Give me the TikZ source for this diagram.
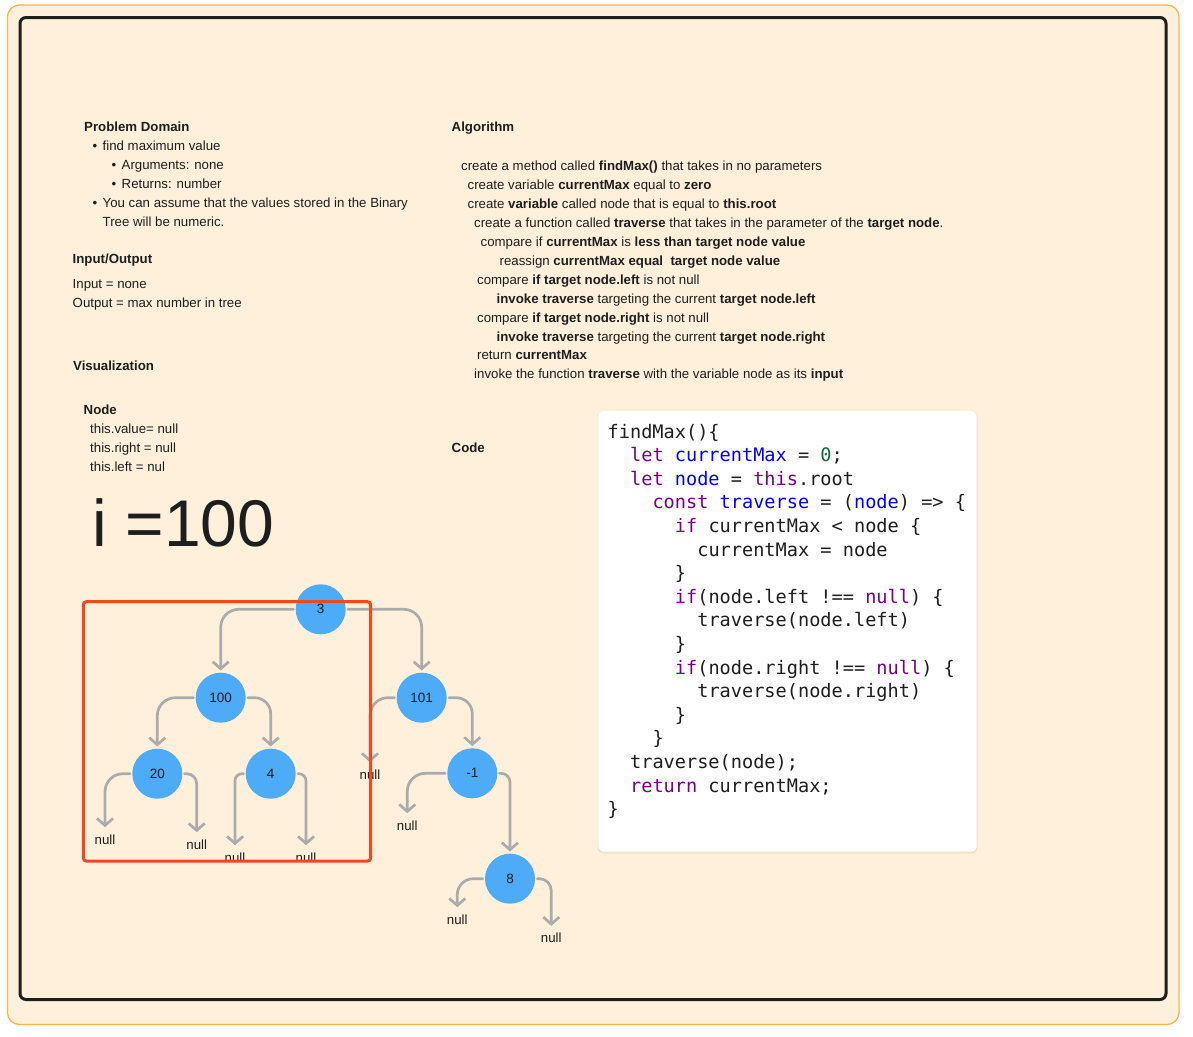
\documentclass[tikz,border=0pt]{standalone}
\usepackage{fontspec}
\setmainfont{Liberation Sans}
\newfontfamily\codefont{DejaVu Sans Mono}
\usetikzlibrary{arrows.meta,calc}
\definecolor{cream}{HTML}{FFF0DB}
\definecolor{frameorange}{HTML}{FFB54F}
\definecolor{ink}{HTML}{1E1E1E}
\definecolor{nodeblue}{HTML}{4DABF7}
\definecolor{conngray}{HTML}{ABABAB}
\definecolor{boxred}{HTML}{F24822}
\definecolor{kwc}{HTML}{770088}
\definecolor{defc}{HTML}{0000FF}
\definecolor{numc}{HTML}{116644}
\newcommand\ckw[1]{\textcolor{kwc}{#1}}
\newcommand\cdf[1]{\textcolor{defc}{#1}}
\newcommand\cnm[1]{\textcolor{numc}{#1}}
\tikzset{
  txt/.style={anchor=base west, inner sep=0pt, text=ink, font=\fontsize{13.25}{15}\selectfont},
  codeline/.style={anchor=base west, inner sep=0pt, text=ink, font=\codefont\fontsize{18.6}{22}\selectfont},
  circ/.style={circle, fill=nodeblue, minimum size=50pt, inner sep=0pt, text=ink, font=\fontsize{13.5}{15}\selectfont},
  nulllab/.style={anchor=base, inner sep=0pt, text=ink, font=\fontsize{13.25}{15}\selectfont},
  conn/.style={draw=conngray, line width=2.7pt, rounded corners=18pt, line cap=round,
    -{Straight Barb[length=7pt,width=16pt]}, shorten <=2pt},
  tocirc/.style={shorten >=2pt},
  tonull/.style={shorten >=7pt}
}
\begin{document}
\begin{tikzpicture}[x=1pt,y=-1pt]
\useasboundingbox (0,0) rectangle (1193,1036);
\fill[white] (0,0) rectangle (1193,1036);
\draw[frameorange, line width=1.3pt, fill=cream, rounded corners=12pt] (7.5,5) rectangle (1179,1024.5);
\draw[ink, line width=3pt, rounded corners=6pt] (20,17.5) rectangle (1166,999.5);

% Left column text
\node[txt] (pd) at (84,131) {\textbf{Problem Domain}};
\node[txt] (b1) at (92.5,150) {•};
\node[txt] (t1) at (102.5,150) {find maximum value};
\node[txt] (b2) at (111.5,169) {•};
\node[txt] (t2) at (121.5,169) {Arguments: none};
\node[txt] (b3) at (111.5,188) {•};
\node[txt] (t3) at (121.5,188) {Returns: number};
\node[txt] (b4) at (92.5,207) {•};
\node[txt] (t4) at (102.5,207) {You can assume that the values stored in the Binary};
\node[txt] (t5) at (102.5,226) {Tree will be numeric.};
\node[txt] (io) at (72.5,263) {\textbf{Input/Output}};
\node[txt] (in) at (72.5,288) {Input = none};
\node[txt] (out) at (72.5,307) {Output = max number in tree};
\node[txt] (vis) at (73,370) {\textbf{Visualization}};
\node[txt] (nd) at (83.5,414) {\textbf{Node}};
\node[txt] (nv) at (90,433) {this.value= null};
\node[txt] (nr) at (90,452) {this.right = null};
\node[txt] (nl) at (90,471) {this.left = nul};
\node[anchor=base west, inner sep=0pt, text=ink, font=\fontsize{66}{72}\selectfont] (ieq) at (92.5,546) {i =100};

% Algorithm
\node[txt] (alg) at (451.5,131) {\textbf{Algorithm}};
\node[txt] (a1) at (461,170) {create a method called \textbf{findMax()} that takes in no parameters};
\node[txt] (a2) at (467.5,189) {create variable \textbf{currentMax} equal to \textbf{zero}};
\node[txt] (a3) at (467.5,208) {create \textbf{variable} called node that is equal to \textbf{this.root}};
\node[txt] (a4) at (474,227) {create a function called \textbf{traverse} that takes in the parameter of the \textbf{target node}.};
\node[txt] (a5) at (480.5,246) {compare if \textbf{currentMax} is \textbf{less than target node value}};
\node[txt] (a6) at (499.5,265) {reassign \textbf{currentMax equal\ \ target node value}};
\node[txt] (a7) at (477,284) {compare \textbf{if target node.left} is not null};
\node[txt] (a8) at (496.5,303) {\textbf{invoke traverse} targeting the current \textbf{target node.left}};
\node[txt] (a9) at (477,322) {compare \textbf{if target node.right} is not null};
\node[txt] (a10) at (496.5,341) {\textbf{invoke traverse} targeting the current \textbf{target node.right}};
\node[txt] (a11) at (477,359) {return \textbf{currentMax}};
\node[txt] (a12) at (474,378) {invoke the function \textbf{traverse} with the variable node as its \textbf{input}};
\node[txt] (code) at (451.5,452) {\textbf{Code}};

% Code box
\fill[black, opacity=0.06, rounded corners=6pt] (597.5,411.5) rectangle (977.5,853.5);
\fill[white, rounded corners=6pt] (598.3,411) rectangle (976.7,851.7);
\node[codeline] (c1)  at (607.5,438)   {findMax()\{};
\node[codeline] (c2)  at (629.9,461.6) {\ckw{let} \cdf{currentMax} = \cnm{0};};
\node[codeline] (c3)  at (629.9,485.2) {\ckw{let} \cdf{node} = \ckw{this}.root};
\node[codeline] (c4)  at (652.3,508.8) {\ckw{const} \cdf{traverse} = (\cdf{node}) => \{};
\node[codeline] (c5)  at (674.7,532.4) {\ckw{if} currentMax < node \{};
\node[codeline] (c6)  at (697.1,556)   {currentMax = node};
\node[codeline] (c7)  at (674.7,579.6) {\}};
\node[codeline] (c8)  at (674.7,603.2) {\ckw{if}(node.left !== \ckw{null}) \{};
\node[codeline] (c9)  at (697.1,626.8) {traverse(node.left)};
\node[codeline] (c10) at (674.7,650.4) {\}};
\node[codeline] (c11) at (674.7,674)   {\ckw{if}(node.right !== \ckw{null}) \{};
\node[codeline] (c12) at (697.1,697.6) {traverse(node.right)};
\node[codeline] (c13) at (674.7,721.2) {\}};
\node[codeline] (c14) at (652.3,744.8) {\}};
\node[codeline] (c15) at (629.9,768.4) {traverse(node);};
\node[codeline] (c16) at (629.9,792)   {\ckw{return} currentMax;};
\node[codeline] (c17) at (607.5,815.6) {\}};

% Tree nodes
\node[circ] (n3)   at (320.7,609.3) {3};
\node[circ] (n100) at (220.7,697.7) {100};
\node[circ] (n101) at (421.7,697.7) {101};
\node[circ] (n20)  at (157.3,773.7) {20};
\node[circ] (n4)   at (270.7,773.7) {4};
\node[circ] (nm1)  at (472.3,773.3) {-1};
\node[circ] (n8)   at (510,878.7)   {8};

\node[nulllab] (z1) at (105,844)   {null};
\node[nulllab] (z2) at (196.7,849) {null};
\node[nulllab] (z3) at (235,862)   {null};
\node[nulllab] (z4) at (306,862)   {null};
\node[nulllab] (z5) at (370,779)   {null};
\node[nulllab] (z6) at (407.3,830) {null};
\node[nulllab] (z7) at (457.3,924) {null};
\node[nulllab] (z8) at (551.3,942.7) {null};

% Connectors
\draw[conn,tocirc] (n3.west) -| (n100.north);
\draw[conn,tocirc] (n3.east) -| (n101.north);
\draw[conn,tocirc] (n100.west) -| (n20.north);
\draw[conn,tocirc,rounded corners=16pt] (n100.east) -| (n4.north);
\draw[conn,tonull] (n20.west) -| (z1.north);
\draw[conn,tonull,rounded corners=10pt] (n20.east) -| (z2.north);
\draw[conn,tonull,rounded corners=7pt] (n4.west) -| (z3.north);
\draw[conn,tonull,rounded corners=7pt] (n4.east) -| (z4.north);
\draw[conn,tonull] (n101.west) -| (z5.north);
\draw[conn,tocirc,rounded corners=16pt] (n101.east) -| (nm1.north);
\draw[conn,tonull] (nm1.west) -| (z6.north);
\draw[conn,tocirc,rounded corners=9pt] (nm1.east) -| (n8.north);
\draw[conn,tonull,rounded corners=16pt] (n8.west) -| (z7.north);
\draw[conn,tonull,rounded corners=12pt] (n8.east) -| (z8.north);

% Red frame
\draw[boxred, line width=3pt, rounded corners=3pt] (83.3,601.7) rectangle (370.7,861);
\end{tikzpicture}
\end{document}
